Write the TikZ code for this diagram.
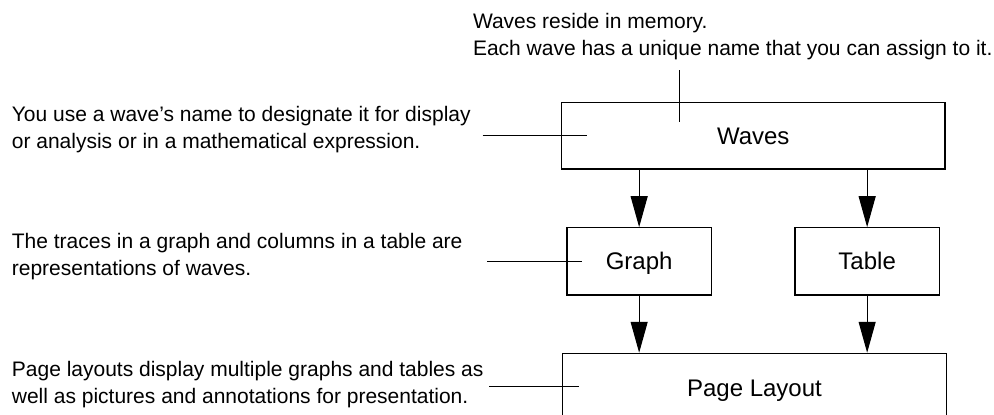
\documentclass[tikz,border=0pt]{standalone}
\usepackage{fontspec}
\setmainfont{Liberation Sans}
\usetikzlibrary{arrows.meta}
\begin{document}
\begin{tikzpicture}[x=1pt,y=-1pt,
  box/.style={draw, line width=1.1pt, inner sep=0pt, text height=17.2pt, text depth=0pt, font=\fontsize{24}{28}\selectfont},
  note/.style={align=left, inner sep=0pt, font=\fontsize{21}{26.6}\selectfont, anchor=base west},
  lead/.style={line width=1pt},
  flow/.style={line width=1.1pt, -{Triangle[length=31pt,width=17pt]}}]
\useasboundingbox (0,0) rectangle (994,415);
\clip (0,0) rectangle (994,415);
\fill[white] (0,0) rectangle (994,415);
% boxes
\node[box, minimum width=383.5pt, minimum height=66.7pt] (waves) at (753.25,135.65) {Waves};
\node[box, minimum width=144.3pt, minimum height=67.3pt] (graph) at (639.15,261.35) {Graph};
\node[box, minimum width=144.3pt, minimum height=67.3pt] (table) at (867.15,261.35) {Table};
\node[box, minimum width=384pt, minimum height=69.4pt] (page) at (754.5,388) {Page Layout};
% arrows
\draw[flow] (graph.north |- waves.south) -- (graph.north);
\draw[flow] (table.north |- waves.south) -- (table.north);
\draw[flow] (graph.south) -- (graph.south |- page.north);
\draw[flow] (table.south) -- (table.south |- page.north);
% annotations (anchor = baseline of the last line)
\node[note] (topnote) at (472.8,55.5) {Waves reside in memory.\\Each wave has a unique name that you can assign to it.};
\node[note] (wavesnote) at (11.7,148.3) {You use a wave’s name to designate it for display\\or analysis or in a mathematical expression.};
\node[note] (graphnote) at (11.7,275) {The traces in a graph and columns in a table are\\representations of waves.};
\node[note] (pagenote) at (11.7,403) {Page layouts display multiple graphs and tables as\\well as pictures and annotations for presentation.};
% leader lines
\coordinate (topA) at (679.7,70);
\coordinate (topB) at (679.7,121.7);
\coordinate (wA) at (482.7,135.7);
\coordinate (wB) at (586.7,135.7);
\coordinate (gA) at (487.3,261.7);
\coordinate (gB) at (582.3,261.7);
\coordinate (pA) at (489.3,386.7);
\coordinate (pB) at (579.3,386.7);
\draw[lead] (topA) -- (topB);
\draw[lead] (wA) -- (wB);
\draw[lead] (gA) -- (gB);
\draw[lead] (pA) -- (pB);
\end{tikzpicture}
\end{document}
